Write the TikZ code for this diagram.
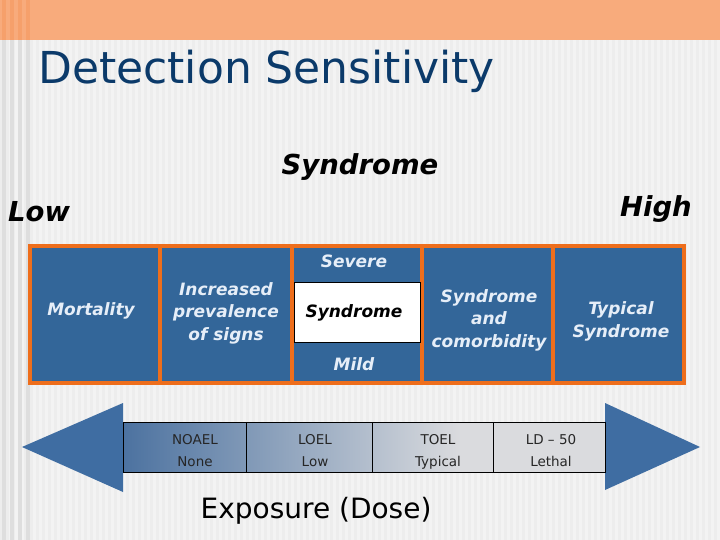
\documentclass[tikz,border=0pt]{standalone}
\usepackage{fontspec}
\setmainfont{DejaVu Sans}
\definecolor{bandorange}{HTML}{F8AB7C}
\definecolor{bgbase}{HTML}{F3F3F3}
\definecolor{bgstripe}{HTML}{EDEDED}
\definecolor{bgdark}{HTML}{DEDEDE}
\definecolor{titleblue}{HTML}{0B3A6A}
\definecolor{frameorange}{HTML}{EE6E1C}
\definecolor{cellblue}{HTML}{336699}
\definecolor{celltext}{HTML}{E6EEF8}
\definecolor{triblue}{HTML}{3F6DA2}
\definecolor{shaftL}{HTML}{4C72A0}
\definecolor{shaftR}{HTML}{DADBDE}
\pgfdeclarehorizontalshading{shaftshade}{100bp}{color(0bp)=(shaftL); color(25bp)=(shaftL); color(60bp)=(shaftR); color(100bp)=(shaftR)}
\begin{document}
\begin{tikzpicture}[x=1pt,y=-1pt,
  cellbox/.style={fill=cellblue, draw=none, minimum width=#1, minimum height=133pt, inner sep=0pt, anchor=north west},
  celllabel/.style={text=celltext, font=\fontsize{17}{22.5}\selectfont\bfseries\itshape, align=center, inner sep=0pt},
  tabcell/.style={draw=black, line width=0.6pt, minimum height=50pt, inner sep=0pt, anchor=north west, minimum width=#1},
  tablabel/.style={font=\fontsize{13.5}{16}\selectfont, text=black!85, inner sep=0pt, anchor=base},
  biglabel/.style={font=\fontsize{27.5}{32}\selectfont\bfseries\itshape, text=black, inner sep=0pt, anchor=base}
]
\useasboundingbox (0,0) rectangle (720,540);
% background
\fill[bgbase] (0,0) rectangle (720,540);
\foreach \i in {0,6,...,714} {\fill[bgstripe] (\i,40) rectangle ++(3,500);}
\foreach \i in {2,10,18,26} {\fill[bgdark] (\i,40) rectangle ++(4,500);}
\fill[bandorange] (0,0) rectangle (720,40);
\foreach \i in {2,10,18,26} {\fill[frameorange!18!bandorange] (\i,0) rectangle ++(4,40);}
% title
\node[font=\fontsize{44}{50}\selectfont, text=titleblue, anchor=base west, inner sep=0pt] (title) at (38,84) {Detection Sensitivity};
% headings
\node[biglabel] (synd) at (360,175) {Syndrome};
\node[biglabel, anchor=base west] (low) at (8,222) {Low};
\node[biglabel, anchor=base east] (high) at (692,216) {High};
% frame and cells
\node[fill=frameorange, minimum width=658pt, minimum height=141pt, inner sep=0pt, anchor=north west] (frame) at (28,244) {};
\node[cellbox=126pt] (c1) at (32,248) {};
\node[cellbox=128pt] (c2) at (162,248) {};
\node[cellbox=126pt] (c3) at (294,248) {};
\node[cellbox=127pt] (c4) at (424,248) {};
\node[cellbox=127pt] (c5) at (555,248) {};
\node[fill=white, draw=black, line width=0.6pt, minimum width=126pt, minimum height=60pt, inner sep=0pt, anchor=north west] (wbox) at (294,282) {};
\node[celllabel, anchor=base] (t1) at (91,315) {Mortality};
\node[celllabel, anchor=base] (t2) at (226,340) {Increased\\prevalence\\of signs};
\node[celllabel, anchor=base] (sev) at (354,267) {Severe};
\node[celllabel, anchor=base, text=black] (t3) at (354,317) {Syndrome};
\node[celllabel, anchor=base] (mild) at (354,370) {Mild};
\node[celllabel, anchor=base] (t4) at (489,347) {Syndrome\\and\\comorbidity};
\node[celllabel, anchor=base] (t5) at (621,337) {Typical\\Syndrome};
% arrow
\fill[triblue] (123,403) -- (123,492) -- (22,447) -- cycle;
\fill[triblue] (605,403) -- (605,490) -- (700,447) -- cycle;
\shade[shading=shaftshade] (123,422) rectangle (605,472);
\node[tabcell=123pt] (k1) at (123,422) {};
\node[tabcell=126pt] (k2) at (246,422) {};
\node[tabcell=121pt] (k3) at (372,422) {};
\node[tabcell=112pt] (k4) at (493,422) {};
\node[tablabel] (a1) at (195,444) {NOAEL};
\node[tablabel] (a2) at (315,444) {LOEL};
\node[tablabel] (a3) at (438,444) {TOEL};
\node[tablabel] (a4) at (551,444) {LD – 50};
\node[tablabel] (b1) at (195,466) {None};
\node[tablabel] (b2) at (315,466) {Low};
\node[tablabel] (b3) at (438,466) {Typical};
\node[tablabel] (b4) at (551,466) {Lethal};
\node[font=\fontsize{28}{32}\selectfont, inner sep=0pt, anchor=base] (expo) at (316,518) {Exposure (Dose)};
\end{tikzpicture}
\end{document}
